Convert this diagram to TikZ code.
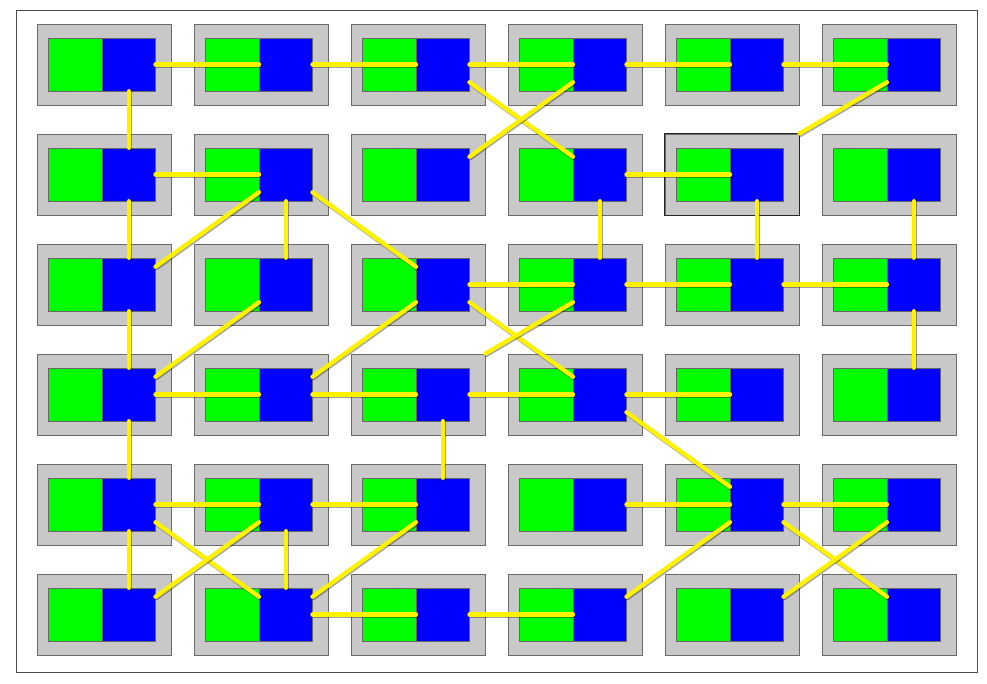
\documentclass[tikz,border=0pt]{standalone}
\usepackage{xcolor}
\usepackage{tikz}
\usetikzlibrary{positioning}

\definecolor{cellgray}{RGB}{200,200,200}
\definecolor{portblue}{RGB}{0,0,255}
\definecolor{portgreen}{RGB}{0,255,0}
\definecolor{wireyellow}{RGB}{255,242,0}

\begin{document}
\begin{tikzpicture}[x=1pt, y=-1pt,
    cell/.style={draw=black!58, fill=cellgray, line width=1pt, minimum width=134pt, minimum height=81pt, inner sep=0pt},
    half/.style={draw=black!60, line width=0.5pt, minimum width=53pt, minimum height=53pt, inner sep=0pt},
    wire/.style={wireyellow, line width=4.3pt, line cap=round,
      preaction={draw=black, opacity=0.35, line width=4.3pt, line cap=round, transform canvas={xshift=0.8pt, yshift=-1.4pt}}}]
    \useasboundingbox (0,0) rectangle (987,683);
    \draw[black!70, line width=1pt] (16,10) rectangle (977,672);
    % boxes
    \foreach \r in {1,...,6}
      \foreach \c in {1,...,6} {
        \node[cell] (cell-\r-\c) at ({104+157*(\c-1)}, {64.5+110*(\r-1)}) {};
        \node[half, fill=portblue, anchor=west] (b-\r-\c) at ([xshift=-2pt]cell-\r-\c.center) {};
        \node[half, fill=portgreen, minimum width=54pt, left=0pt of b-\r-\c] (g-\r-\c) {};
        \coordinate (b-\r-\c-ne) at ([yshift=-9pt]b-\r-\c.north east);
        \coordinate (b-\r-\c-nw) at ([yshift=-9pt]b-\r-\c.north west);
        \coordinate (b-\r-\c-se) at ([yshift=9pt]b-\r-\c.south east);
        \coordinate (b-\r-\c-sw) at ([yshift=9pt]b-\r-\c.south west);
      }
    \draw[black!85, line width=1.2pt] (cell-2-5.north west) rectangle (cell-2-5.south east);
    % horizontal links
    \foreach \a/\b in {1-1/1-2,1-2/1-3,1-3/1-4,1-4/1-5,1-5/1-6,2-1/2-2,2-4/2-5,3-3/3-4,3-4/3-5,3-5/3-6,
                       4-1/4-2,4-2/4-3,4-3/4-4,4-4/4-5,5-1/5-2,5-2/5-3,5-4/5-5,5-5/5-6,6-2/6-3,6-3/6-4}
      \draw[wire] (b-\a.east) -- (b-\b.west);
    % vertical links
    \foreach \a/\b in {1-1/2-1,2-1/3-1,2-2/3-2,2-4/3-4,2-5/3-5,2-6/3-6,3-1/4-1,3-6/4-6,4-1/5-1,4-3/5-3,5-1/6-1,5-2/6-2}
      \draw[wire] (b-\a.south) -- (b-\b.north);
    % diagonal links
    \foreach \a/\b in {b-1-3-se/b-2-4-nw,b-1-4-sw/b-2-3-ne,b-1-6-sw/cell-2-5.north east,b-2-2-sw/b-3-1-ne,
                       b-2-2-se/b-3-3-nw,b-3-2-sw/b-4-1-ne,b-3-3-sw/b-4-2-ne,b-3-3-se/b-4-4-nw,
                       b-3-4-sw/cell-4-3.north east,b-4-4-se/b-5-5-nw,b-5-1-se/b-6-2-nw,b-5-2-sw/b-6-1-ne,
                       b-5-3-sw/b-6-2-ne,b-5-5-sw/b-6-4-ne,b-5-5-se/b-6-6-nw,b-5-6-sw/b-6-5-ne}
      \draw[wire] (\a) -- (\b);
\end{tikzpicture}
\end{document}
